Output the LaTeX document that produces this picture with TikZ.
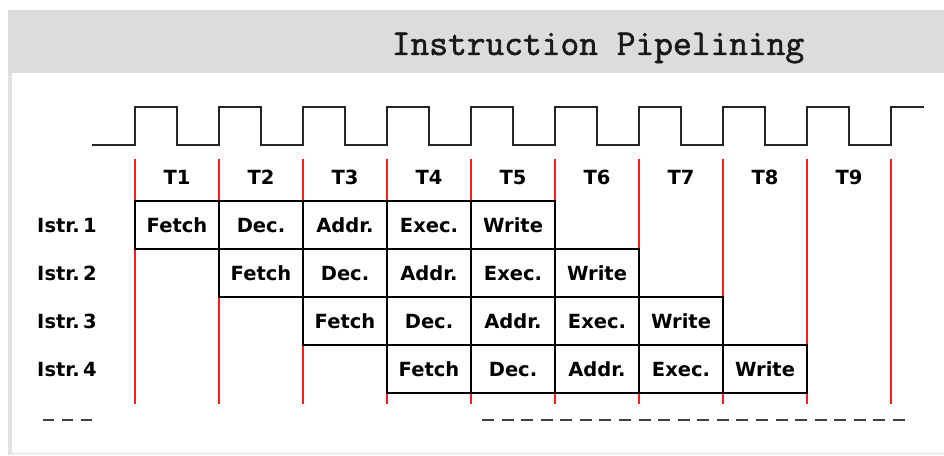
\documentclass[tikz,border=0pt]{standalone}
\usepackage{fontspec}
\newfontfamily\titlefont[FakeBold=1.6]{Latin Modern Mono}
\newfontfamily\lblfont{DejaVu Sans}
\definecolor{hdrgray}{HTML}{DCDCDC}
\definecolor{bordergray}{HTML}{E2E2E2}
\definecolor{pipered}{HTML}{FF1A1A}
\definecolor{dashgray}{HTML}{404040}
\begin{document}
\begin{tikzpicture}[x=1pt,y=-1pt,
  clock/.style={draw=black!85, line width=1.6pt, line join=miter},
  redline/.style={draw=pipered, line width=1.6pt},
  txt/.style={inner sep=0pt, text height=14.2pt, text depth=0pt, font=\lblfont\bfseries\fontsize{19.5}{21}\selectfont},
  cell/.style={txt, draw=black, line width=1.5pt, minimum width=84pt, minimum height=48pt},
  hdr/.style={txt},
  lbl/.style={txt},
  dashline/.style={draw=dashgray, line width=2.6pt}]
\useasboundingbox (0,0) rectangle (944,455);
\fill[white] (0,0) rectangle (944,455);
% frame
\fill[hdrgray] (8,10) rectangle (944,73);
\fill[bordergray] (8,73) rectangle (12,455);
\fill[black!6] (12,452) rectangle (944,455);
\node[inner sep=0pt, text=black!90, font=\titlefont\fontsize{36.4}{40}\selectfont] (title) at (598,48) {Instruction Pipelining};
% clock
\draw[clock] (92,145) foreach \k in {0,...,8} { -- ({135+84*\k},145) -- ({135+84*\k},107) -- ({177+84*\k},107) -- ({177+84*\k},145) } -- (891,145) -- (891,107) -- (924,107);
% red time lines
\foreach \k in {0,...,9} \draw[redline] ({135+84*\k},159) -- ({135+84*\k},404);
% headers
\foreach \k in {1,...,9} \node[hdr] (t\k) at ({135+84*(\k-1)+42},177) {T\k};
% rows
\foreach \r in {1,...,4} {
  \node[lbl] (i\r) at (67,{225+48*(\r-1)}) {Istr.\kern0.18em\r};
  \foreach \s/\name in {1/Fetch,2/Dec.,3/Addr.,4/Exec.,5/Write}
    \node[cell] (c\r\s) at ({135+84*(\r+\s-2)+42},{225+48*(\r-1)}) {\name};
}
% continuation dashes
\coordinate (dl1) at (43,420);
\coordinate (dl2) at (92,420);
\coordinate (dr1) at (482,420);
\coordinate (dr2) at (905,420);
\draw[dashline, dash pattern=on 11pt off 8pt] (dl1) -- (dl2);
\draw[dashline, dash pattern=on 12pt off 7.57pt] (dr1) -- (dr2);
\end{tikzpicture}
\end{document}
